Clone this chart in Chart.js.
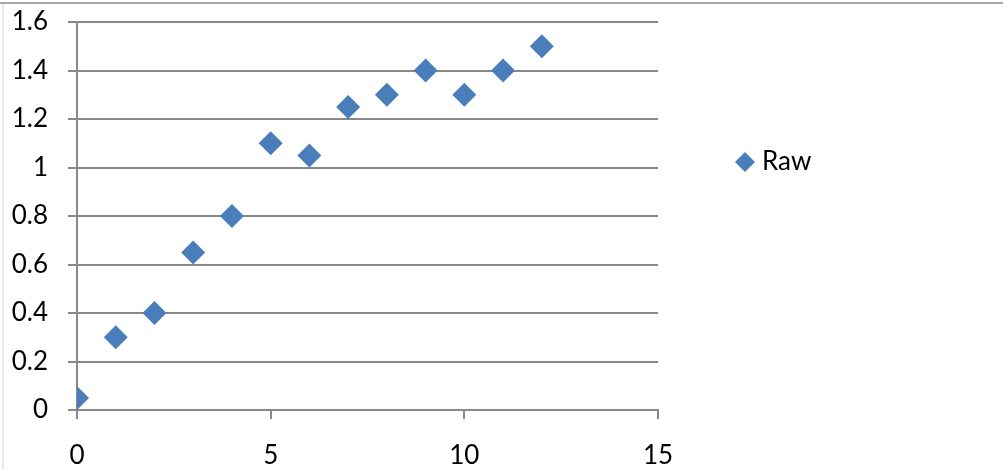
<!DOCTYPE html>
<html>
<head>
<meta charset="utf-8">
<script src="https://cdn.jsdelivr.net/npm/chart.js@4"></script>
<style>
  html, body { margin: 0; padding: 0; background: #fff; }
  #wrap { width: 1003px; height: 470px; position: relative; }
</style>
</head>
<body>
<div id="wrap"><canvas id="rawChart" width="1003" height="470"></canvas></div>
<script>
// data
const xValues = [0, 1, 2, 3, 4, 5, 6, 7, 8, 9, 10, 11, 12];
const rawValues = [0.05, 0.3, 0.4, 0.65, 0.8, 1.1, 1.05, 1.25, 1.3, 1.4, 1.3, 1.4, 1.5];
const seriesName = 'Raw';
const yTicks = [0, 0.2, 0.4, 0.6, 0.8, 1, 1.2, 1.4, 1.6];
const xTicks = [0, 5, 10, 15];

const blue = '#4a7ebb';
const gridGray = '#888888';
const fontFamily = 'Lato, "Open Sans", sans-serif';

window.onload = function() {
    // frame lines + side legend, drawn like the excel export
    const excelLook = {
        id: 'excelLook',
        beforeDraw(chart) {
            const c = chart.ctx;
            c.save();
            c.lineWidth = 2;
            c.strokeStyle = '#e8e8e8';
            c.beginPath();
            c.moveTo(3, 3); c.lineTo(3, chart.height);
            c.stroke();
            c.strokeStyle = '#a6a6a6';
            c.beginPath();
            c.moveTo(0, 3); c.lineTo(chart.width, 3);
            c.stroke();
            c.restore();
        },
        afterDraw(chart) {
            const c = chart.ctx;
            const ds = chart.data.datasets[0];
            const lx = 745, ly = 162;
            c.save();
            c.fillStyle = ds.backgroundColor;
            c.beginPath();
            c.moveTo(lx, ly - 10); c.lineTo(lx + 10, ly);
            c.lineTo(lx, ly + 10); c.lineTo(lx - 10, ly);
            c.closePath();
            c.fill();
            c.fillStyle = '#000';
            c.font = '26px ' + fontFamily;
            c.textBaseline = 'middle';
            c.fillText(ds.label, 762, ly);
            c.restore();
        }
    };

    const ctx = document.getElementById('rawChart').getContext('2d');
    new Chart(ctx, {
        type: 'scatter',
        data: {
            datasets: [{
                label: seriesName,
                data: xValues.map((x, i) => ({ x: x, y: rawValues[i] })),
                backgroundColor: blue,
                borderColor: blue,
                borderWidth: 0,
                pointStyle: 'rectRot',
                pointRadius: 12,
                pointHoverRadius: 12
            }]
        },
        options: {
            responsive: false,
            animation: false,
            layout: { padding: { top: 22, right: 345, left: 0, bottom: 0 } },
            plugins: {
                legend: { display: false },
                tooltip: { enabled: false }
            },
            scales: {
                x: {
                    type: 'linear',
                    min: 0,
                    max: 15,
                    afterBuildTicks: (axis) => { axis.ticks = xTicks.map(v => ({ value: v })); },
                    afterFit: (axis) => { axis.height = 60; },
                    grid: {
                        drawOnChartArea: false,
                        drawTicks: true,
                        tickLength: 9,
                        color: gridGray,
                        lineWidth: 2
                    },
                    border: { color: gridGray, width: 2 },
                    ticks: {
                        color: '#000',
                        padding: 21,
                        maxRotation: 0,
                        font: { family: fontFamily, size: 26 }
                    }
                },
                y: {
                    min: 0,
                    max: 1.6,
                    afterBuildTicks: (axis) => { axis.ticks = yTicks.map(v => ({ value: v })); },
                    afterFit: (axis) => {
                        axis.width = 77;
                        axis.paddingTop = 0;
                        axis.paddingBottom = 0;
                    },
                    grid: {
                        drawTicks: true,
                        tickLength: 9,
                        color: gridGray,
                        lineWidth: 2
                    },
                    border: { color: gridGray, width: 2 },
                    ticks: {
                        color: '#000',
                        padding: 20,
                        callback: (v) => String(Math.round(v * 10) / 10),
                        font: { family: fontFamily, size: 26 }
                    }
                }
            }
        },
        plugins: [excelLook]
    });
};
</script>
</body>
</html>
